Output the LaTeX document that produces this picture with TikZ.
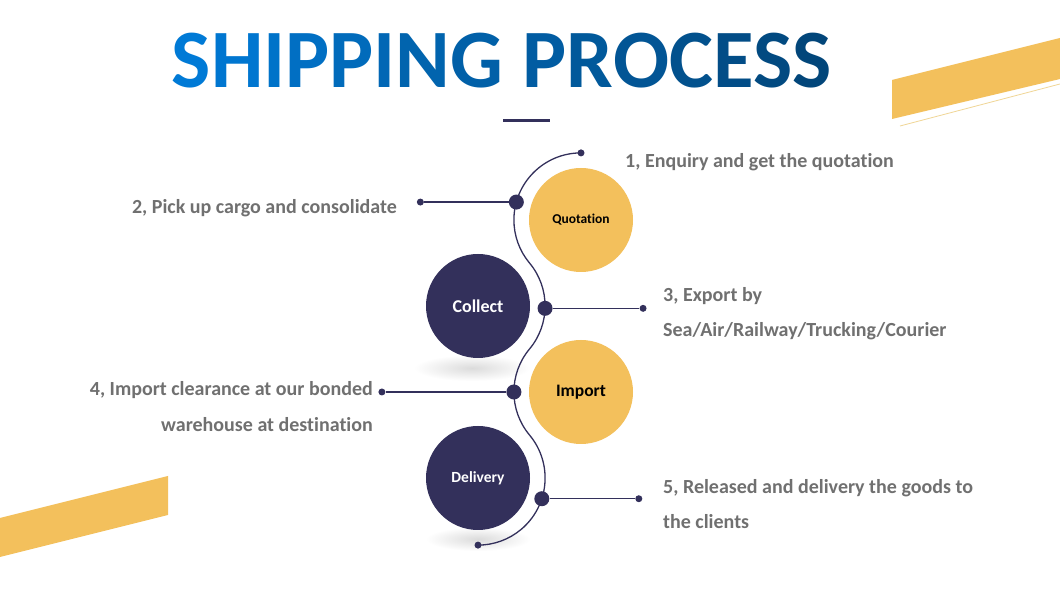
\documentclass[tikz,border=0pt]{standalone}
\usepackage{fontspec}
\setmainfont{Carlito}[Ligatures=NoCommon]
\usepackage{tikz}
\usetikzlibrary{positioning}

\definecolor{navy}{RGB}{51,48,91}
\definecolor{gold}{RGB}{243,192,92}
\definecolor{paleGold}{RGB}{240,214,150}
\definecolor{txtGray}{RGB}{112,112,112}
\definecolor{tA}{RGB}{0,122,214}
\definecolor{tB}{RGB}{2,70,122}

\begin{document}
\begin{tikzpicture}[
			x=1pt, y=1pt
			,every node/.append style={font=\bfseries}
			,bubble/.style={circle, minimum size=104pt, inner sep=0pt}
			,yb/.style={bubble, fill=gold, text=black}
			,nb/.style={bubble, fill=navy, text=white}
			,bigdot/.style={circle, fill=navy, minimum size=15pt, inner sep=0pt}
			,smalldot/.style={circle, fill=navy, minimum size=7pt, inner sep=0pt}
			,wire/.style={navy, line width=1.4pt}
			,lbl/.style={text=txtGray, font=\bfseries\fontsize{20}{22}\selectfont, inner sep=0pt}
		]
			\fill[white] (0,0) rectangle (1060,596);
			\useasboundingbox (0,0) rectangle (1060,596);

			% yellow bands
			\fill[gold] (892,516) -- (1060,558) -- (1060,517) -- (892,477) -- cycle;
			\draw[paleGold, line width=0.8pt] (900,470) -- (1060,512);
			\fill[gold] (0,78) -- (168,120) -- (168,81) -- (0,39) -- cycle;

			% title
			\node[anchor=base, inner sep=0pt, font=\bfseries\fontsize{83}{90}\selectfont] (T) at (502,508)
				{\color{tA!100!tB}S\color{tA!93!tB}H\color{tA!86!tB}I\color{tA!79!tB}P\color{tA!71!tB}P\color{tA!64!tB}I\color{tA!57!tB}N\color{tA!50!tB}G
				 \color{tA!43!tB}P\color{tA!36!tB}R\color{tA!29!tB}O\color{tA!21!tB}C\color{tA!14!tB}E\color{tA!7!tB}S\color{tA!0!tB}S};
			\fill[navy] (503,474) rectangle (550,477);

			% shadows
			\shade[inner color=black!14, outer color=white] (472,228) ellipse (58 and 13);
			\shade[inner color=black!14, outer color=white] (478,57) ellipse (52 and 12);

			% steps
			\node [yb] (Q) at (581,376) {\fontsize{13.5}{15}\selectfont Quotation};
			\node [nb] (C) at (478,290) {\fontsize{18}{20}\selectfont Collect};
			\node [yb] (I) at (581,204) {\fontsize{17.5}{20}\selectfont Import};
			\node [nb] (D) at (478,118) {\fontsize{15.5}{17}\selectfont Delivery};

			% winding line
			\draw[navy, line width=1.3pt] (Q.center) ++(90:67.1) node[smalldot] (S) {}
				arc[start angle=90, end angle=219.86, radius=67.1]
				arc[start angle=39.86, end angle=-39.86, radius=67.1]
				arc[start angle=140.14, end angle=219.86, radius=67.1]
				arc[start angle=39.86, end angle=-90, radius=67.1] node[smalldot] (E) {};

			% dots on the line and their leaders
			\path (Q.center) ++(164.5:67.1) node[bigdot] (P1) {};
			\path (C.center) ++(-2:67.1) node[bigdot] (P2) {};
			\path (I.center) ++(180:67.1) node[bigdot] (P3) {};
			\path (D.center) ++(-18:67.1) node[bigdot] (P4) {};
			\path (P1) ++(-96,0) node[smalldot] (L1) {};
			\path (P2) ++(98,0) node[smalldot] (L2) {};
			\path (P3) ++(-132,0) node[smalldot] (L3) {};
			\path (P4) ++(97,0) node[smalldot] (L4) {};
			\draw[wire] (P1) -- (L1);
			\draw[wire] (P2) -- (L2);
			\draw[wire] (P3) -- (L3);
			\draw[wire] (P4) -- (L4);

			% labels
			\node[lbl, anchor=base west] (t1) at (625,428) {1, Enquiry and get the quotation};
			\node[lbl, anchor=base east] (t2) at (397,382.5) {2, Pick up cargo and consolidate};
			\node[lbl, anchor=base west] (t3) at (663,294) {3, Export by};
			\node[lbl, anchor=base west] (t3b) at (663,259) {Sea/Air/Railway/Trucking/Courier};
			\node[lbl, anchor=base east] (t4) at (373,200) {4, Import clearance at our bonded};
			\node[lbl, anchor=base east] (t4b) at (373,164) {warehouse at destination};
			\node[lbl, anchor=base west] (t5) at (663,102) {5, Released and delivery the goods to};
			\node[lbl, anchor=base west] (t5b) at (663,67) {the clients};
		\end{tikzpicture}
\end{document}
